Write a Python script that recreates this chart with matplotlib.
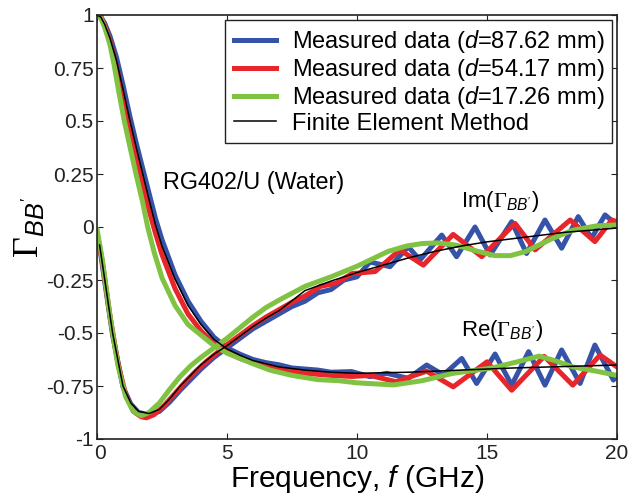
import matplotlib
matplotlib.use("Agg")
import matplotlib.pyplot as plt
import matplotlib.transforms as mtransforms
from matplotlib.lines import Line2D

plt.rcParams['font.family'] = ['Liberation Sans', 'DejaVu Sans']
plt.rcParams['mathtext.fontset'] = 'custom'
plt.rcParams['mathtext.rm'] = 'Liberation Serif'
plt.rcParams['mathtext.it'] = 'Liberation Sans:italic'
plt.rcParams['mathtext.bf'] = 'Liberation Sans:bold'

# ---------------- data ----------------
# Finite Element Method
f_re_fem = [0, 0.15, 0.3, 0.5, 0.75, 1.0, 1.25, 1.5, 1.75, 2.0, 2.25, 2.5, 3.0, 3.5, 4.0, 4.5,
            5.0, 5.5, 6, 7, 8, 9, 10, 12, 14, 16, 18, 20]
re_fem = [1.0, 0.99, 0.955, 0.89, 0.785, 0.65, 0.51, 0.38, 0.255, 0.13, 0.01, -0.09, -0.245,
          -0.37, -0.46, -0.53, -0.575, -0.605, -0.63, -0.66, -0.675, -0.685, -0.69, -0.685,
          -0.675, -0.665, -0.658, -0.651]
f_im_fem = [0.1, 0.3, 0.6, 1.0, 1.3, 1.6, 2.0, 2.4, 2.8, 3.2, 3.6, 4.0, 4.5, 5.0, 5.5, 6.0,
            6.5, 7, 8, 9, 10, 11, 12, 13, 14, 15, 16, 17, 18, 19, 20]
im_fem = [-0.085, -0.25, -0.5, -0.75, -0.83, -0.87, -0.88, -0.86, -0.81, -0.75, -0.70, -0.65,
          -0.60, -0.56, -0.515, -0.47, -0.43, -0.395, -0.30, -0.255, -0.215, -0.18, -0.145,
          -0.115, -0.09, -0.07, -0.055, -0.04, -0.025, -0.015, -0.005]

# Measured, d = 87.62 mm (blue)
f_re_blue = [0, 0.15, 0.3, 0.5, 0.75, 1.0, 1.25, 1.5, 1.75, 2.0, 2.25, 2.5, 3.0, 3.5, 4.0, 4.5,
             5.0, 5.5, 6.0, 6.5, 7.0, 7.5, 8.0, 8.5, 9.0, 9.79, 10.5, 11.14, 11.97, 12.68,
             13.32, 14.03, 14.6, 15.31, 15.95, 16.6, 17.23, 17.87, 18.58, 19.15, 19.86, 20.0]
re_blue = [1.0, 0.99, 0.96, 0.90, 0.80, 0.67, 0.53, 0.40, 0.28, 0.16, 0.04, -0.06, -0.225,
           -0.35, -0.445, -0.52, -0.57, -0.60, -0.625, -0.64, -0.65, -0.665, -0.67, -0.675,
           -0.685, -0.682, -0.706, -0.690, -0.714, -0.651, -0.698, -0.620, -0.738, -0.599,
           -0.746, -0.588, -0.746, -0.580, -0.738, -0.557, -0.722, -0.70]
f_im_blue = [0, 0.1, 0.3, 0.6, 1.0, 1.3, 1.6, 2.0, 2.4, 2.8, 3.2, 3.6, 4.0, 4.5, 5.0, 5.5, 6.0,
             6.5, 7.0, 7.5, 8.0, 8.5, 9.0, 9.5, 10.0, 10.5, 11.27, 11.97, 12.42, 13.26, 13.83,
             14.54, 15.12, 15.95, 16.52, 17.23, 17.87, 18.51, 19.02, 19.54, 20.0]
im_blue = [-0.05, -0.09, -0.26, -0.51, -0.755, -0.835, -0.875, -0.885, -0.87, -0.825, -0.77,
           -0.72, -0.67, -0.615, -0.57, -0.525, -0.48, -0.445, -0.41, -0.375, -0.35, -0.31,
           -0.295, -0.25, -0.235, -0.165, -0.187, -0.093, -0.156, -0.038, -0.14, 0.0, -0.132,
           0.025, -0.125, 0.033, -0.10, 0.049, -0.053, 0.057, 0.01]

# Measured, d = 54.17 mm (red)
f_re_red = [0, 0.15, 0.3, 0.5, 0.75, 1.0, 1.25, 1.5, 1.75, 2.0, 2.25, 2.5, 3.0, 3.5, 4.0, 4.5,
            5.0, 5.5, 6.0, 7, 8, 9, 9.8, 10.5, 11.5, 12.68, 13.7, 15.0, 15.95, 17.2, 18.3,
            19.35, 20]
re_red = [1.0, 0.99, 0.95, 0.875, 0.755, 0.61, 0.47, 0.33, 0.2, 0.08, -0.03, -0.13, -0.29,
          -0.41, -0.49, -0.55, -0.59, -0.62, -0.64, -0.67, -0.69, -0.70, -0.705, -0.70,
          -0.73, -0.68, -0.754, -0.636, -0.77, -0.61, -0.746, -0.604, -0.66]
f_im_red = [0, 0.2, 0.5, 0.8, 1.1, 1.4, 1.7, 1.9, 2.2, 2.6, 3.0, 3.4, 3.8, 4.2, 4.6, 5.0, 5.5,
            6.0, 6.5, 7.0, 7.5, 8.0, 8.6, 9.2, 9.8, 10.7, 11.65, 12.55, 13.7, 14.8, 16.08,
            16.85, 18.2, 19.15, 19.8, 20]
im_red = [-0.03, -0.16, -0.42, -0.64, -0.79, -0.87, -0.895, -0.90, -0.885, -0.84, -0.785,
          -0.73, -0.68, -0.635, -0.595, -0.555, -0.51, -0.465, -0.425, -0.39, -0.355, -0.325,
          -0.28, -0.265, -0.22, -0.21, -0.108, -0.18, -0.035, -0.14, 0.017, -0.108, 0.033,
          -0.069, 0.033, 0.025]

# Measured, d = 17.26 mm (green)
f_re_green = [0, 0.15, 0.3, 0.5, 0.65, 0.85, 1.05, 1.3, 1.5, 1.75, 1.95, 2.2, 2.5, 3.0, 3.5,
              4.0, 4.5, 5.0, 5.5, 6.0, 6.65, 7.5, 8.5, 9.3, 10.0, 11.4, 12.5, 13.7, 15.2, 16.2,
              17.0, 17.6, 18.3, 19.2, 20]
re_green = [1.0, 0.985, 0.94, 0.86, 0.77, 0.63, 0.5, 0.36, 0.25, 0.12, 0.0, -0.12, -0.24,
            -0.37, -0.46, -0.51, -0.56, -0.595, -0.62, -0.645, -0.675, -0.70, -0.72, -0.725,
            -0.735, -0.745, -0.725, -0.69, -0.665, -0.635, -0.609, -0.63, -0.66, -0.68, -0.70]
f_im_green = [0, 0.2, 0.5, 0.8, 1.1, 1.4, 1.7, 2.0, 2.4, 2.8, 3.2, 3.6, 4.0, 4.5, 5.0, 5.5, 6.0,
              6.5, 7.0, 8.0, 9.0, 10.0, 10.6, 11.2, 11.9, 12.5, 13.1, 13.8, 14.5, 15.3, 15.9,
              16.5, 17.0, 17.5, 18.3, 19.2, 20]
im_green = [-0.01, -0.15, -0.42, -0.65, -0.80, -0.87, -0.89, -0.875, -0.83, -0.765, -0.705,
            -0.655, -0.615, -0.57, -0.525, -0.475, -0.425, -0.38, -0.345, -0.28, -0.235,
            -0.185, -0.15, -0.115, -0.09, -0.078, -0.075, -0.085, -0.11, -0.135, -0.135,
            -0.115, -0.085, -0.055, -0.015, 0.005, 0.01]

legend_labels = [r'Measured data ($d$=87.62 mm)', r'Measured data ($d$=54.17 mm)',
                 r'Measured data ($d$=17.26 mm)', 'Finite Element Method']
x_ticks = [0, 5, 10, 15, 20]
y_ticks = [-1, -0.75, -0.5, -0.25, 0, 0.25, 0.5, 0.75, 1]
y_tick_labels = ['-1', '-0.75', '-0.5', '-0.25', '0', '0.25', '0.5', '0.75', '1']

# ---------------- plot ----------------
BLUE = '#3553a8'
RED = '#e8252b'
GREEN = '#80c342'
LW = 3.6

fig = plt.figure(figsize=(6.37, 4.99), dpi=100)
ax = fig.add_axes([97/637, 1-439/499, 520/637, 424/499])

for fx, fy, c in [(f_re_blue, re_blue, BLUE), (f_im_blue, im_blue, BLUE),
                  (f_re_red, re_red, RED), (f_im_red, im_red, RED),
                  (f_re_green, re_green, GREEN), (f_im_green, im_green, GREEN)]:
    ax.plot(fx, fy, color=c, lw=LW, solid_joinstyle='round', solid_capstyle='round')
ax.plot(f_re_fem, re_fem, color='black', lw=1.1)
ax.plot(f_im_fem, im_fem, color='black', lw=1.1)

ax.set_xlim(0, 20)
ax.set_ylim(-1, 1)
ax.set_xticks(x_ticks)
ax.set_xticklabels([str(t) for t in x_ticks])
ax.set_yticks(y_ticks)
ax.set_yticklabels(y_tick_labels)
ax.tick_params(direction='in', top=True, right=True, length=4, width=0.8,
               labelsize=15, colors='#222222')
ax.tick_params(axis='y', pad=2.5)
ax.tick_params(axis='x', pad=3.5)
for s in ax.spines.values():
    s.set_linewidth(1.2)
    s.set_color('#222222')

# nudge the x "0" label slightly right so it only touches the y "-1" label
lab0 = ax.get_xticklabels()[0]
lab0.set_transform(lab0.get_transform() +
                   mtransforms.ScaledTranslation(3/100, 0, fig.dpi_scale_trans))

ax.set_xlabel(r'Frequency, $f$ (GHz)', fontsize=21.5, labelpad=0)
ax.set_ylabel(r'$\Gamma_{BB^{\prime}}$', fontsize=26, labelpad=0)

ax.text(2.54, 0.21, 'RG402/U (Water)', fontsize=16.8, ha='left', va='center')
ax.text(14.0, 0.12, r'Im($\Gamma_{BB^{\prime}}$)', fontsize=16, ha='left', va='center')
ax.text(14.0, -0.49, r'Re($\Gamma_{BB^{\prime}}$)', fontsize=16, ha='left', va='center')

handles = [Line2D([], [], color=BLUE, lw=LW), Line2D([], [], color=RED, lw=LW),
           Line2D([], [], color=GREEN, lw=LW), Line2D([], [], color='black', lw=1.1)]
leg = ax.legend(handles, legend_labels, loc='upper right', fontsize=17,
                frameon=True, fancybox=False, edgecolor='#222222', framealpha=1,
                borderaxespad=0.2, handlelength=1.8, handletextpad=0.65,
                labelspacing=0.05, borderpad=0.35)
leg.get_frame().set_linewidth(1.0)

fig.savefig('out.png', dpi=100, facecolor='white')
